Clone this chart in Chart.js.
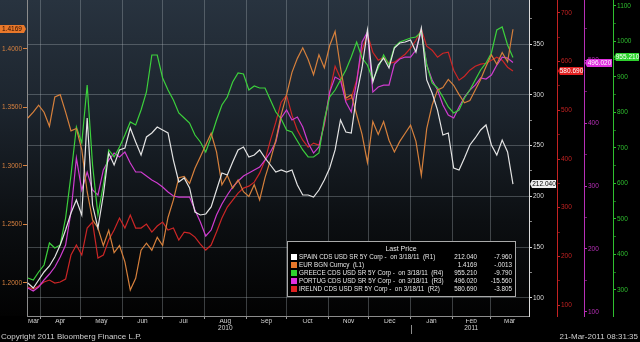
<!DOCTYPE html>
<html>
<head>
<meta charset="utf-8">
<script src="https://cdn.jsdelivr.net/npm/chart.js@4.4.1/dist/chart.umd.min.js"></script>
<style>
  html, body { margin: 0; padding: 0; background: #000; }
  #wrap { width: 640px; height: 342px; }
</style>
</head>
<body>
<div id="wrap"><canvas id="chart" width="640" height="342"></canvas></div>
<script>
// days counted from 1 Mar 2010
const days = [22, 26, 30, 34, 38, 42, 46, 50, 54, 58,
  62, 66, 70, 74, 78, 82, 86, 90, 94, 98,
  102, 106, 110, 114, 118, 122, 126, 130, 134, 138,
  142, 146, 150, 154, 158, 162, 166, 170, 174, 178,
  182, 186, 190, 194, 198, 202, 206, 210, 214, 218,
  222, 226, 230, 234, 238, 242, 246, 250, 254, 258,
  262, 266, 270, 274, 278, 282, 286, 290, 294, 298,
  302, 306, 310, 314, 318, 322, 326, 330, 334, 338,
  342, 346, 350, 354, 358, 362, 366, 370, 374, 378,
  382];

const spain = [114.8, 109.8, 117.7, 125.6, 131.5, 140.4, 152.2, 166.9, 183.7, 196.5,
  181.7, 277.2, 191.5, 168.9, 201.4, 242.7, 230.9, 245.7, 247.6, 267.3,
  253.5, 240.8, 258.5, 262.4, 268.3, 265.4, 262.4, 235.8, 214.2, 218.1,
  208.3, 184.6, 181.7, 182.7, 189.6, 206.3, 223.0, 221.1, 233.9, 245.7,
  248.6, 238.8, 240.8, 245.7, 237.8, 230.9, 224.0, 226.0, 224.0, 226.0,
  211.2, 201.4, 201.4, 199.4, 206.3, 216.1, 228.0, 245.7, 275.2, 263.4,
  262.4, 299.8, 326.4, 363.8, 312.6, 329.3, 336.2, 326.4, 346.1, 351.0,
  352.0, 354.0, 342.1, 365.8, 314.6, 301.8, 285.0, 260.4, 262.4, 227.9,
  226.0, 237.8, 250.6, 257.5, 265.4, 270.3, 250.6, 240.8, 255.5, 243.7,
  212.04];

const eur = [1.341, 1.346, 1.352, 1.346, 1.334, 1.359, 1.361, 1.346, 1.330, 1.332,
  1.314, 1.278, 1.254, 1.247, 1.232, 1.245, 1.226, 1.232, 1.218, 1.194,
  1.204, 1.228, 1.234, 1.228, 1.239, 1.232, 1.256, 1.271, 1.290, 1.291,
  1.285, 1.298, 1.308, 1.318, 1.328, 1.312, 1.284, 1.292, 1.281, 1.288,
  1.278, 1.274, 1.284, 1.271, 1.290, 1.305, 1.322, 1.344, 1.361, 1.380,
  1.392, 1.401, 1.391, 1.378, 1.395, 1.384, 1.403, 1.415, 1.384, 1.358,
  1.361, 1.344, 1.327, 1.303, 1.338, 1.327, 1.338, 1.322, 1.312, 1.321,
  1.328, 1.335, 1.321, 1.292, 1.332, 1.352, 1.365, 1.367, 1.374, 1.369,
  1.361, 1.354, 1.356, 1.365, 1.374, 1.385, 1.395, 1.387, 1.397, 1.389,
  1.4169];

const greece = [333.8, 328.2, 350.7, 370.4, 432.4, 418.3, 426.8, 502.8, 624.0, 759.2,
  714.1, 877.5, 652.1, 511.3, 595.8, 694.4, 674.7, 702.8, 736.6, 773.3,
  764.8, 807.1, 857.8, 962.0, 962.0, 897.2, 863.4, 835.2, 798.6, 784.5,
  770.4, 736.6, 716.9, 688.7, 731.0, 778.9, 821.1, 843.7, 885.9, 911.3,
  908.5, 863.4, 874.7, 869.0, 869.0, 835.2, 801.4, 781.7, 750.7, 745.1,
  719.7, 694.4, 674.7, 674.7, 685.9, 778.9, 843.7, 863.4, 891.6, 919.7,
  956.4, 998.6, 953.5, 933.8, 891.6, 925.4, 962.0, 933.8, 984.5, 998.6,
  1004.3, 1009.9, 1012.7, 1026.8, 933.8, 883.1, 869.0, 843.7, 815.5, 798.6,
  807.1, 840.9, 863.4, 891.6, 919.7, 939.5, 967.6, 1032.4, 1040.9, 990.2,
  955.21];

const portugal = [138.1, 133.3, 139.7, 150.8, 160.3, 171.4, 187.3, 206.3, 258.7, 344.4,
  293.6, 322.2, 293.6, 285.7, 325.4, 341.2, 352.3, 346.0, 353.9, 336.5,
  322.2, 322.2, 315.8, 309.5, 304.7, 298.4, 290.4, 284.1, 282.5, 282.5,
  282.5, 261.9, 242.8, 220.6, 230.1, 253.9, 271.4, 285.7, 298.4, 307.9,
  315.8, 320.6, 325.4, 330.1, 341.2, 353.9, 369.8, 407.9, 420.6, 404.7,
  409.5, 393.6, 368.2, 352.3, 361.9, 399.9, 449.1, 473.0, 468.2, 433.3,
  417.4, 465.0, 528.5, 544.4, 449.1, 457.1, 460.2, 460.2, 493.6, 501.5,
  504.7, 504.7, 515.8, 545.9, 492.0, 468.2, 452.3, 428.5, 412.6, 407.9,
  425.3, 441.2, 452.3, 460.2, 471.4, 469.8, 476.1, 492.0, 504.7, 503.1,
  496.02];

const ireland = [137.0, 132.8, 139.0, 147.2, 151.3, 145.2, 147.2, 153.4, 202.7, 223.2,
  202.7, 258.1, 270.4, 196.5, 202.7, 233.4, 254.0, 278.6, 258.1, 284.8,
  258.1, 258.1, 266.3, 249.9, 262.2, 270.4, 254.0, 258.1, 233.4, 249.9,
  247.8, 239.6, 225.2, 212.9, 223.2, 249.9, 278.6, 301.2, 315.6, 329.9,
  340.2, 344.3, 352.5, 371.0, 397.7, 438.7, 475.7, 516.8, 531.1, 490.1,
  459.3, 438.7, 424.4, 432.6, 428.5, 469.5, 537.3, 590.7, 566.0, 520.9,
  525.0, 561.9, 623.5, 656.4, 619.4, 603.0, 609.1, 596.8, 598.9, 607.1,
  615.3, 627.6, 644.0, 666.6, 631.7, 623.5, 609.1, 617.4, 619.4, 582.5,
  561.9, 570.1, 582.5, 590.7, 594.8, 596.8, 603.0, 609.1, 603.0, 588.6,
  580.69];

const monthStarts = [31, 61, 92, 122, 153, 184, 214, 245, 275, 306, 337, 365];
const monthMids = [26.2, 46, 76.5, 107, 137.5, 168.5, 199, 229.5, 260, 290.5, 321.5, 351, 379.5];
const monthNames = ["Mar", "Apr", "May", "Jun", "Jul", "Aug", "Sep", "Oct", "Nov", "Dec", "Jan", "Feb", "Mar"];
const yearNames = ["", "", "", "", "", "2010", "", "", "", "", "", "2011", ""];
const yearStart = 306;

const eurTicks = [1.20, 1.25, 1.30, 1.35, 1.40];
const spainTicks = [100, 150, 200, 250, 300, 350];
const irelandTicks = [100, 200, 300, 400, 500, 600, 700];
const portugalTicks = [100, 200, 300, 400, 500];
const greeceTicks = [300, 400, 500, 600, 700, 800, 900, 1000, 1100];

const legendNames = [
  "SPAIN CDS USD SR 5Y Corp -  on 3/18/11  (R1)",
  "EUR BGN Curncy  (L1)",
  "GREECE CDS USD SR 5Y Corp -  on 3/18/11  (R4)",
  "PORTUG CDS USD SR 5Y Corp -  on 3/18/11  (R3)",
  "IRELND CDS USD SR 5Y Corp -  on 3/18/11  (R2)"
];
const lastPrices = ["212.040", "1.4169", "955.210", "496.020", "580.690"];
const netChanges = ["-7.960", "-.0013", "-9.790", "-15.560", "-3.805"];

const FONT = "'Liberation Sans', Arial, sans-serif";
const GRID = "rgba(170, 178, 186, 0.34)";
Chart.defaults.font.family = FONT;

const lineColors = ["#e4e4e4", "#d6803c", "#3cd03c", "#d03cd0", "#cc2626"];
const axisIds = ["y1", "yL", "y4", "y3", "y2"];
const tagStyles = [
  { bg: "#f0f0f0", fg: "#000000" },
  { bg: "#e8782a", fg: "#2a0d00" },
  { bg: "#2ed22e", fg: "#ffffff" },
  { bg: "#e030e0", fg: "#ffffff" },
  { bg: "#e02020", fg: "#ffffff" }
];

function withMinors(list) {
  const step = list[1] - list[0];
  const out = [];
  list.forEach((v) => {
    out.push({ value: v, major: true });
    out.push({ value: v + step / 2, major: false });
  });
  return out;
}

function rightAxis(min, max, list, color, width, showGrid) {
  return {
    type: "linear",
    position: "right",
    min: min,
    max: max,
    afterBuildTicks: (s) => { s.ticks = withMinors(list).filter((t) => t.value <= max); },
    afterFit: (s) => { s.width = width; s.paddingTop = 0; s.paddingBottom = 0; },
    ticks: {
      autoSkip: false,
      color: color,
      padding: 1,
      font: { size: 6.5 },
      callback: (v) => (list.includes(v) ? String(v) : "")
    },
    grid: {
      drawOnChartArea: showGrid,
      color: (ctx) => (showGrid && ctx.tick && list.includes(ctx.tick.value) ? GRID : "rgba(0,0,0,0)"),
      tickLength: 3,
      tickColor: (ctx) => (ctx.tick && list.includes(ctx.tick.value) ? color : color + "99")
    },
    border: { display: true, color: color, width: 1 }
  };
}

const backdrop = {
  id: "backdrop",
  beforeDraw(chart) {
    const { ctx, chartArea } = chart;
    ctx.save();
    ctx.fillStyle = "#000";
    ctx.fillRect(0, 0, chart.width, chart.height);
    const g = ctx.createLinearGradient(0, 0, 0, chartArea.bottom);
    g.addColorStop(0, "#28333f");
    g.addColorStop(0.35, "#1c242d");
    g.addColorStop(0.7, "#0c0f12");
    g.addColorStop(1, "#020202");
    ctx.fillStyle = g;
    ctx.fillRect(0, 0, chartArea.right, chartArea.bottom);
    ctx.restore();
  }
};

const overlay = {
  id: "overlay",
  afterDraw(chart) {
    const { ctx, scales } = chart;
    ctx.save();

    // year break mark under the axis
    const xb = Math.round(scales.x.getPixelForValue(yearStart)) + 0.5;
    ctx.strokeStyle = "#8c8c8c";
    ctx.lineWidth = 1;
    ctx.beginPath();
    ctx.moveTo(xb, 325);
    ctx.lineTo(xb, 334);
    ctx.stroke();

    // last price tags on the axes
    ctx.font = "6.5px " + FONT;
    ctx.textBaseline = "middle";
    ctx.textAlign = "center";
    chart.data.datasets.forEach((ds, i) => {
      const axis = scales[axisIds[i]];
      const y = Math.round(axis.getPixelForValue(ds.data[ds.data.length - 1]));
      const st = tagStyles[i];
      let x0, x1, tip;
      if (axis.position === "left") {
        x0 = 0; x1 = axis.right - 3; tip = axis.right - 1;
      } else {
        x0 = axis.left + 3; x1 = axis.right - 1; tip = axis.left + 1;
      }
      ctx.fillStyle = st.bg;
      ctx.beginPath();
      if (axis.position === "left") {
        ctx.moveTo(x0, y - 4); ctx.lineTo(x1, y - 4); ctx.lineTo(tip, y);
        ctx.lineTo(x1, y + 4); ctx.lineTo(x0, y + 4);
      } else {
        ctx.moveTo(tip, y); ctx.lineTo(x0, y - 4); ctx.lineTo(x1, y - 4);
        ctx.lineTo(x1, y + 4); ctx.lineTo(x0, y + 4);
      }
      ctx.closePath();
      ctx.fill();
      ctx.fillStyle = st.fg;
      ctx.fillText(lastPrices[i], (x0 + x1) / 2, y + 0.5);
    });

    // legend table
    const lx = 287, ly = 241, lw = 229, lh = 56;
    ctx.fillStyle = "#000";
    ctx.fillRect(lx, ly, lw, lh);
    ctx.strokeStyle = "#a9a9a9";
    ctx.strokeRect(lx + 0.5, ly + 0.5, lw - 1, lh - 1);
    ctx.fillStyle = "#e6e6e6";
    ctx.font = "7px " + FONT;
    ctx.textAlign = "center";
    ctx.fillText("Last Price", 401, 249);
    ctx.font = "6.3px " + FONT;
    const rows = [257, 265, 273, 281, 289];
    legendNames.forEach((name, i) => {
      const ry = rows[i];
      ctx.fillStyle = lineColors[i] === "#e4e4e4" ? "#ffffff" : tagStyles[i].bg;
      ctx.fillRect(291, ry - 3, 6, 6);
      ctx.fillStyle = "#e6e6e6";
      ctx.textAlign = "left";
      ctx.fillText(name, 299, ry);
      ctx.textAlign = "right";
      ctx.fillText(lastPrices[i], 477, ry);
      ctx.fillText(netChanges[i], 512, ry);
    });

    // footer
    ctx.font = "8px " + FONT;
    ctx.fillStyle = "#cfcfcf";
    ctx.textAlign = "left";
    ctx.fillText("Copyright 2011 Bloomberg Finance L.P.", 1, 337);
    ctx.textAlign = "right";
    ctx.fillText("21-Mar-2011 08:31:35", 638, 337);
    ctx.restore();
  }
};

const series = [spain, eur, greece, portugal, ireland];

new Chart(document.getElementById("chart").getContext("2d"), {
  type: "line",
  data: {
    labels: days,
    datasets: series.map((values, i) => ({
      label: legendNames[i],
      data: values,
      xAxisID: "x",
      yAxisID: axisIds[i],
      borderColor: lineColors[i],
      borderWidth: 1.2,
      pointRadius: 0,
      tension: 0,
      fill: false
    }))
  },
  options: {
    responsive: false,
    animation: false,
    devicePixelRatio: 1,
    layout: { padding: { top: 0, left: 0, right: 0, bottom: 8 } },
    plugins: { legend: { display: false }, tooltip: { enabled: false } },
    scales: {
      x: {
        type: "linear",
        position: "bottom",
        min: 21.35,
        max: 393.9,
        afterBuildTicks: (s) => { s.ticks = monthStarts.map((v) => ({ value: v })); },
        afterFit: (s) => { s.height = 3; s.paddingLeft = 0; s.paddingRight = 0; },
        ticks: { display: false, autoSkip: false },
        grid: { color: GRID, tickLength: 3, tickColor: "#9a9a9a" },
        border: { display: true, color: "#8c8c8c", width: 1 }
      },
      xm: {
        type: "linear",
        position: "bottom",
        min: 21.35,
        max: 393.9,
        afterBuildTicks: (s) => { s.ticks = monthMids.map((v) => ({ value: v })); },
        afterFit: (s) => { s.height = 15; s.paddingLeft = 0; s.paddingRight = 0; },
        ticks: {
          autoSkip: false,
          maxRotation: 0,
          padding: -1,
          color: "#d4d4d4",
          font: { size: 6.5, lineHeight: 1.05 },
          callback: (v, i) => (yearNames[i] ? [monthNames[i], yearNames[i]] : monthNames[i])
        },
        grid: { display: false, drawTicks: false },
        border: { display: false }
      },
      yL: {
        type: "linear",
        position: "left",
        min: 1.17179,
        max: 1.44188,
        afterBuildTicks: (s) => { s.ticks = eurTicks.map((v) => ({ value: v })); },
        afterFit: (s) => { s.width = 27; s.paddingTop = 0; s.paddingBottom = 0; },
        ticks: {
          autoSkip: false,
          color: "#d9823f",
          padding: 1,
          font: { size: 6.5 },
          callback: (v) => v.toFixed(4)
        },
        grid: { drawOnChartArea: false, tickLength: 4, tickColor: "#d9823f" },
        border: { display: true, color: "#8c8c8c", width: 1 }
      },
      y1: rightAxis(82.28, 393.31, spainTicks, "#dcdcdc", 28, true),
      y2: rightAxis(77.4, 726.71, irelandTicks, "#c42222", 27, false),
      y3: rightAxis(93.65, 595.24, portugalTicks, "#b830b8", 29, false),
      y4: rightAxis(226.76, 1116.9, greeceTicks, "#2fbf2f", 27, false)
    }
  },
  plugins: [backdrop, overlay]
});
</script>
</body>
</html>
